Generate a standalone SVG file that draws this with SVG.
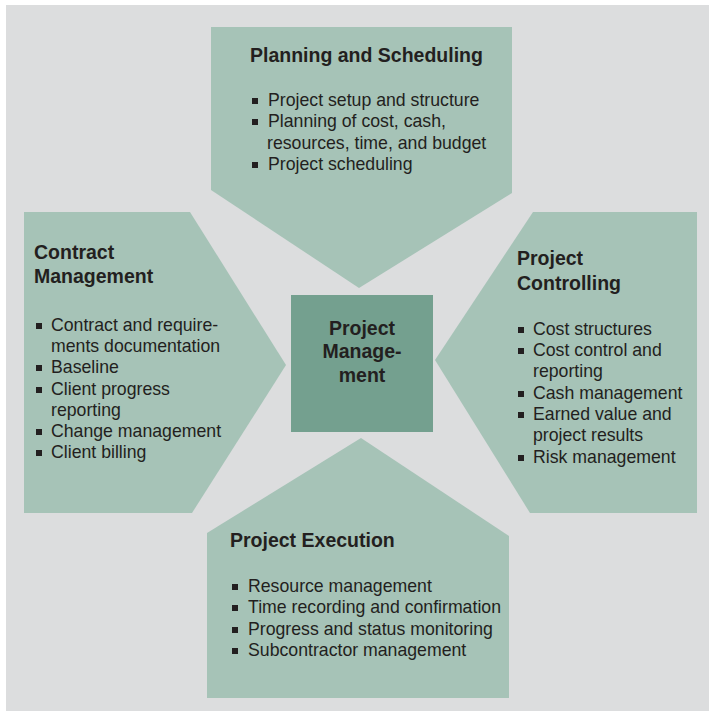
<svg xmlns="http://www.w3.org/2000/svg" width="709" height="711" viewBox="0 0 709 711">
<style>
.shape{fill:#a6c3b7}
.core{fill:#74a08f}
.t{font-family:"Liberation Sans",Arial,sans-serif;fill:#231f20}
.h{font-size:19.5px;font-weight:bold}
.b{font-size:17.7px}
.sq{fill:#231f20}
</style>
<defs>
<rect id="bul" x="0" y="-6" width="6" height="6"/>
</defs>
<rect x="0" y="0" width="709" height="711" fill="#ffffff"/>
<rect x="6" y="5" width="703" height="706" fill="#dcddde"/>
<g id="connectors"></g>
<g id="planning">
<polygon class="shape" points="211,27 512,27 512,193 359,288 211,190"/>
<text class="t h" x="250" y="62">Planning and Scheduling</text>
<g class="sq"><use href="#bul" x="252" y="104"/><use href="#bul" x="252" y="125"/><use href="#bul" x="252" y="168"/></g>
<text class="t b" x="268" y="106">Project setup and structure</text>
<text class="t b" x="268" y="127">Planning of cost, cash,</text>
<text class="t b" x="267" y="149">resources, time, and budget</text>
<text class="t b" x="268" y="170">Project scheduling</text>
</g>
<g id="contract">
<polygon class="shape" points="24,212 190,212 286,365 192,513 24,513"/>
<text class="t h" x="34" y="259">Contract</text>
<text class="t h" x="34" y="283">Management</text>
<g class="sq"><use href="#bul" x="36" y="329"/><use href="#bul" x="36" y="371"/><use href="#bul" x="36" y="393"/><use href="#bul" x="36" y="435"/><use href="#bul" x="36" y="456"/></g>
<text class="t b" x="51" y="331">Contract and require-</text>
<text class="t b" x="51" y="352">ments documentation</text>
<text class="t b" x="51" y="373">Baseline</text>
<text class="t b" x="51" y="395">Client progress</text>
<text class="t b" x="51" y="416">reporting</text>
<text class="t b" x="51" y="437">Change management</text>
<text class="t b" x="51" y="458">Client billing</text>
</g>
<g id="controlling">
<polygon class="shape" points="533,212 697,212 697,513 530,513 435,360"/>
<text class="t h" x="517" y="265">Project</text>
<text class="t h" x="517" y="290">Controlling</text>
<g class="sq"><use href="#bul" x="518" y="333"/><use href="#bul" x="518" y="354"/><use href="#bul" x="518" y="397"/><use href="#bul" x="518" y="418"/><use href="#bul" x="518" y="461"/></g>
<text class="t b" x="533" y="335">Cost structures</text>
<text class="t b" x="533" y="356">Cost control and</text>
<text class="t b" x="533" y="377">reporting</text>
<text class="t b" x="533" y="399">Cash management</text>
<text class="t b" x="533" y="420">Earned value and</text>
<text class="t b" x="533" y="441">project results</text>
<text class="t b" x="533" y="463">Risk management</text>
</g>
<g id="execution">
<polygon class="shape" points="361,438 509,536 509,698 207,698 207,533"/>
<text class="t h" x="230" y="547">Project Execution</text>
<g class="sq"><use href="#bul" x="232" y="590"/><use href="#bul" x="232" y="611"/><use href="#bul" x="232" y="633"/><use href="#bul" x="232" y="654"/></g>
<text class="t b" x="248" y="592">Resource management</text>
<text class="t b" x="248" y="613">Time recording and confirmation</text>
<text class="t b" x="248" y="635">Progress and status monitoring</text>
<text class="t b" x="248" y="656">Subcontractor management</text>
</g>
<g id="core">
<rect class="core" x="291" y="295" width="142" height="137"/>
<text class="t h" x="362" y="335" text-anchor="middle">Project</text>
<text class="t h" x="362" y="358" text-anchor="middle">Manage-</text>
<text class="t h" x="362" y="382" text-anchor="middle">ment</text>
</g>
</svg>
